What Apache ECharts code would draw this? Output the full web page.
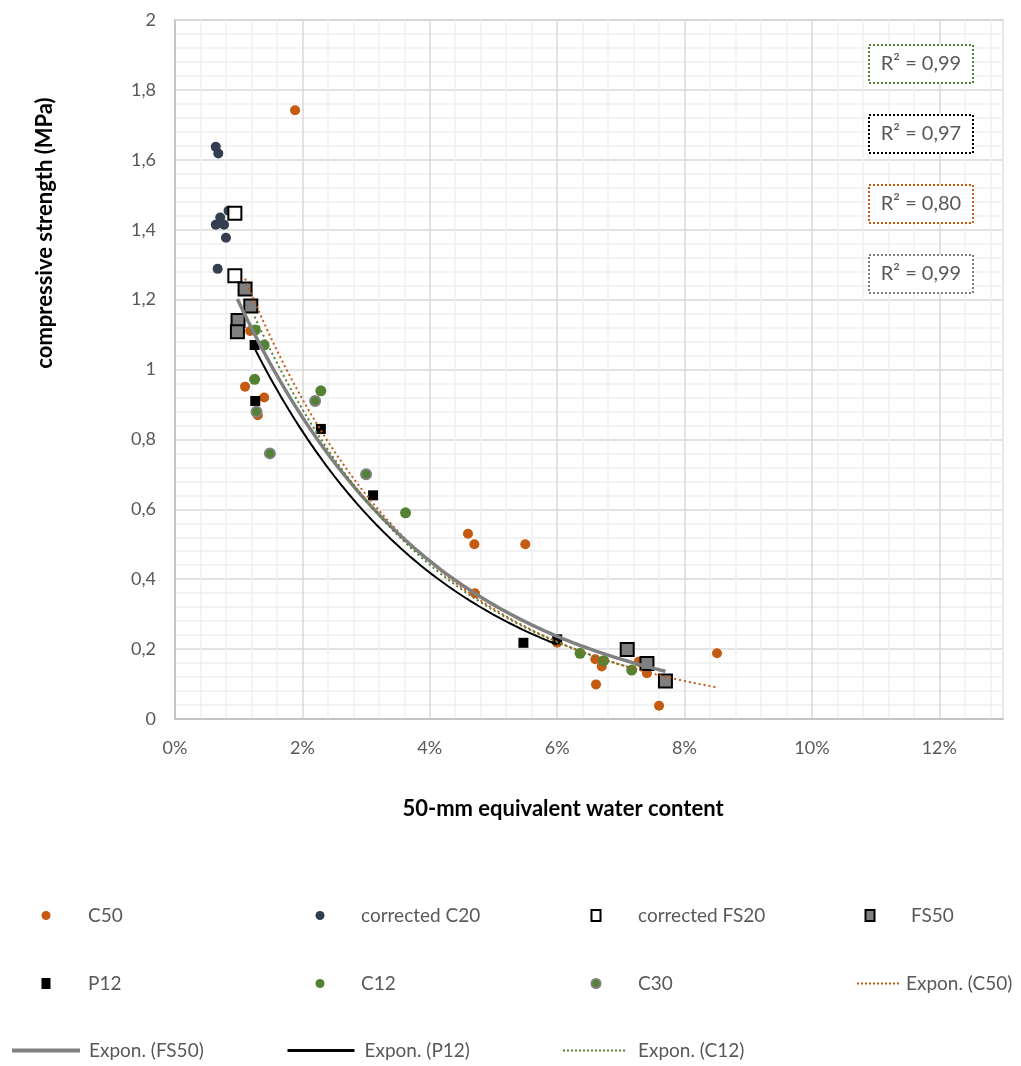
<!DOCTYPE html>
<html>
<head>
<meta charset="utf-8">
<script src="https://cdn.jsdelivr.net/npm/echarts@6/dist/echarts.min.js"></script>
<style>html,body{margin:0;padding:0;background:#fff;}#chart{width:1021px;height:1066px;}</style>
</head>
<body>
<div id="chart"></div>
<script>
// ---- data (x in %, y in MPa) ----
const c50X = [1.885, 1.18, 1.10, 1.40, 1.30, 4.60, 4.70, 5.50, 4.71, 6.00, 6.60, 6.70, 6.61, 7.28, 7.41, 7.60, 8.51];
const c50Y = [1.742, 1.110, 0.951, 0.920, 0.869, 0.530, 0.500, 0.500, 0.360, 0.218, 0.171, 0.150, 0.099, 0.164, 0.131, 0.038, 0.188];
const c20X = [0.64, 0.68, 0.84, 0.71, 0.64, 0.77, 0.80, 0.67];
const c20Y = [1.637, 1.618, 1.454, 1.435, 1.414, 1.414, 1.377, 1.288];
const fs20X = [0.94, 0.94];
const fs20Y = [1.447, 1.268];
const fs50X = [1.10, 1.19, 0.99, 0.98, 7.10, 7.41, 7.70];
const fs50Y = [1.230, 1.182, 1.140, 1.108, 0.199, 0.159, 0.109];
const p12X = [1.25, 1.26, 2.29, 3.11, 5.47, 6.00];
const p12Y = [1.070, 0.910, 0.830, 0.640, 0.218, 0.228];
const c12X = [1.26, 1.40, 1.25, 2.29, 3.62, 6.36, 6.73, 7.17];
const c12Y = [1.113, 1.070, 0.972, 0.939, 0.590, 0.188, 0.167, 0.140];
const c30X = [1.28, 1.49, 2.20, 3.00];
const c30Y = [0.879, 0.760, 0.910, 0.700];
const rSquaredLabels = ['R² = 0,99', 'R² = 0,97', 'R² = 0,80', 'R² = 0,99'];
const xTitle = '50-mm equivalent water content';
const yTitle = 'compressive strength (MPa)';

// ---- helpers ----
function pairs(xs, ys) { return xs.map((x, i) => [x, ys[i]]); }
// Excel-style exponential trendline: least squares on ln(y)
function expTrend(xs, ys, steps) {
  const n = xs.length;
  let sx = 0, sy = 0, sxx = 0, sxy = 0;
  for (let i = 0; i < n; i++) {
    const ly = Math.log(ys[i]);
    sx += xs[i]; sy += ly; sxx += xs[i] * xs[i]; sxy += xs[i] * ly;
  }
  const b = (n * sxy - sx * sy) / (n * sxx - sx * sx);
  const a = Math.exp((sy - b * sx) / n);
  const x0 = Math.min(...xs), x1 = Math.max(...xs);
  const out = [];
  for (let i = 0; i <= steps; i++) {
    const x = x0 + (x1 - x0) * i / steps;
    out.push([x, a * Math.exp(b * x)]);
  }
  return out;
}

const FONT = 'Lato, "Open Sans", sans-serif';
const TXT = '#595959';
const ORANGE = '#C55A11', NAVY = '#333F50', GREEN = '#548235', GREY = '#808080';

function isMajorX(v) { return Math.abs(v / 2 - Math.round(v / 2)) < 1e-6; }

const chart = echarts.init(document.getElementById('chart'), null, { renderer: 'canvas' });

// marker legend item: icon centred at cx, text starting at tx
function legMark(name, cx, cy, tx, w, h) {
  return {
    data: [name], left: cx - w / 2, top: cy - 11, itemWidth: w, itemHeight: h, padding: 0,
    selectedMode: false,
    textStyle: { fontSize: 19, color: TXT, fontFamily: FONT, padding: [0, 0, 0, tx - (cx + w / 2) - 5] }
  };
}
// line legend item: line from x0 to x1, text at tx
function legLine(name, x0, x1, cy, tx, width, type) {
  return {
    data: [name], left: x0, top: cy - 11, itemWidth: x1 - x0, itemHeight: 10, padding: 0,
    selectedMode: false,
    itemStyle: { opacity: 0, borderWidth: 0 },
    lineStyle: { width: width, type: type },
    textStyle: { fontSize: 19, color: TXT, fontFamily: FONT, padding: [0, 0, 0, Math.max(0, tx - x1 - 5)] }
  };
}

const option = {
  backgroundColor: '#fff',
  animation: false,
  grid: { left: 175, right: 18, top: 20, bottom: 347, show: true, borderColor: '#bfbfbf', borderWidth: 1.5, backgroundColor: 'transparent' },
  xAxis: {
    type: 'value', min: 0, max: 13, interval: 0.4,
    axisLine: { show: true, lineStyle: { color: '#bfbfbf', width: 1.5 } },
    axisTick: { show: false },
    axisLabel: {
      margin: 20, fontSize: 18, color: TXT, fontFamily: FONT, showMaxLabel: false,
      formatter: v => isMajorX(v) ? Math.round(v) + '%' : ''
    },
    splitLine: { show: true, lineStyle: { color: ['#d9d9d9', '#f0f0f0', '#f0f0f0', '#f0f0f0', '#f0f0f0'], width: 1.5 } }
  },
  yAxis: {
    type: 'value', min: 0, max: 2, interval: 0.2,
    axisLine: { show: true, lineStyle: { color: '#bfbfbf', width: 1.5 } },
    axisTick: { show: false },
    axisLabel: {
      margin: 19, fontSize: 18, color: TXT, fontFamily: FONT,
      formatter: v => (Math.round(v * 10) / 10).toString().replace('.', ',')
    },
    splitLine: { show: true, lineStyle: { color: '#d9d9d9', width: 1.5 } },
    minorTick: { show: false, splitNumber: 5 },
    minorSplitLine: { show: true, lineStyle: { color: '#f0f0f0', width: 1.5 } }
  },
  legend: [
    legMark('C50', 46, 917, 88, 9, 9),
    legMark('corrected C20', 320, 917, 361, 9, 9),
    legMark('corrected FS20', 595, 917, 637, 9, 11),
    legMark('FS50', 869, 917, 910, 9, 11),
    legMark('P12', 46, 985, 88, 9, 11),
    legMark('C12', 320, 985, 361, 9, 9),
    legMark('C30', 595, 985, 637, 9, 9),
    legLine('Expon. (C50)', 856, 899, 985, 905, 2, [2, 2]),
    legLine('Expon. (FS50)', 10, 78, 1052, 87, 4, 'solid'),
    legLine('Expon. (P12)', 286, 353, 1052, 363, 3, 'solid'),
    legLine('Expon. (C12)', 562, 624, 1052, 637, 2, [2, 2])
  ],
  series: [
    { name: 'C50', type: 'scatter', symbol: 'circle', symbolSize: 10, data: pairs(c50X, c50Y), itemStyle: { color: ORANGE, opacity: 1 } },
    { name: 'corrected C20', type: 'scatter', symbol: 'circle', symbolSize: 10, data: pairs(c20X, c20Y), itemStyle: { color: NAVY, opacity: 1 } },
    { name: 'corrected FS20', type: 'scatter', symbol: 'rect', symbolSize: 13, data: pairs(fs20X, fs20Y), itemStyle: { color: '#ffffff', borderColor: '#000', borderWidth: 2, opacity: 1 } },
    { name: 'FS50', type: 'scatter', symbol: 'rect', symbolSize: 13, data: pairs(fs50X, fs50Y), itemStyle: { color: GREY, borderColor: '#000', borderWidth: 2, opacity: 1 } },
    { name: 'P12', type: 'scatter', symbol: 'rect', symbolSize: 10, data: pairs(p12X, p12Y), itemStyle: { color: '#000', opacity: 1 } },
    { name: 'C12', type: 'scatter', symbol: 'circle', symbolSize: 11, data: pairs(c12X, c12Y), itemStyle: { color: GREEN, opacity: 1 } },
    { name: 'C30', type: 'scatter', symbol: 'circle', symbolSize: 10, data: pairs(c30X, c30Y), itemStyle: { color: GREEN, borderColor: GREY, borderWidth: 2, opacity: 1 } },
    { name: 'Expon. (C50)', type: 'line', showSymbol: false, symbol: 'none', data: expTrend(c50X, c50Y, 80), lineStyle: { color: ORANGE, width: 2, type: [2, 3] }, itemStyle: { color: ORANGE } },
    { name: 'Expon. (FS50)', type: 'line', showSymbol: false, symbol: 'none', data: expTrend(fs50X, fs50Y, 80), lineStyle: { color: GREY, width: 3.5 }, itemStyle: { color: GREY } },
    { name: 'Expon. (P12)', type: 'line', showSymbol: false, symbol: 'none', data: expTrend(p12X, p12Y, 80), lineStyle: { color: '#000', width: 2 }, itemStyle: { color: '#000' } },
    { name: 'Expon. (C12)', type: 'line', showSymbol: false, symbol: 'none', data: expTrend(c12X, c12Y, 80), lineStyle: { color: GREEN, width: 2, type: [2, 3] }, itemStyle: { color: GREEN } }
  ],
  graphic: [
    { type: 'text', x: 563, y: 809, style: { text: xTitle, fontSize: 22, fontWeight: 'bold', fill: '#000', fontFamily: FONT, align: 'center', verticalAlign: 'middle' } },
    { type: 'text', x: 45, y: 233, rotation: Math.PI / 2, style: { text: yTitle, fontSize: 22, fontWeight: 'bold', fill: '#000', fontFamily: FONT, align: 'center', verticalAlign: 'middle' } }
  ].concat([
    [GREEN, 45], ['#000', 115], [ORANGE, 185], [GREY, 255]
  ].flatMap((c, i) => [
    { type: 'rect', z: 20, shape: { x: 869, y: c[1], width: 104, height: 38 }, style: { fill: '#fff', stroke: c[0], lineWidth: 2, lineDash: [2, 2] } },
    { type: 'text', z: 21, x: 921, y: c[1] + 19, style: { text: rSquaredLabels[i], fontSize: 20, fill: TXT, fontFamily: FONT, align: 'center', verticalAlign: 'middle' } }
  ]))
};
chart.setOption(option);
</script>
</body>
</html>
